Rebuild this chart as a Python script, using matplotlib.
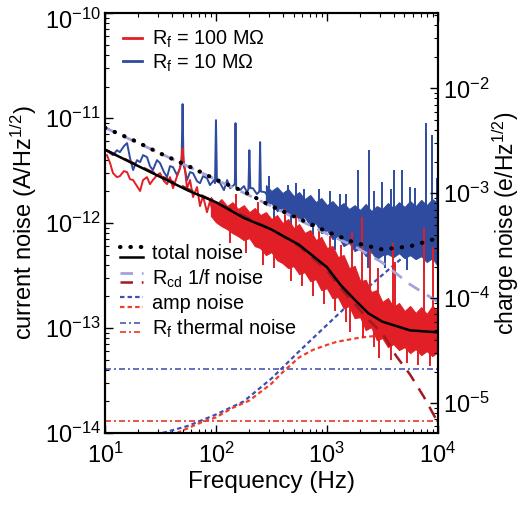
import matplotlib
matplotlib.use('Agg')
import matplotlib.pyplot as plt
from matplotlib.legend_handler import HandlerBase
from matplotlib.lines import Line2D
from matplotlib.transforms import ScaledTranslation

plt.rcParams['font.family'] = ['Liberation Sans', 'DejaVu Sans']
plt.rcParams['mathtext.fontset'] = 'custom'
plt.rcParams['mathtext.rm'] = 'Liberation Sans'
plt.rcParams['mathtext.it'] = 'Liberation Sans:italic'
plt.rcParams['mathtext.bf'] = 'Liberation Sans:bold'
plt.rcParams['mathtext.default'] = 'regular'

# %% colours
RED = '#e21e26'
BLUE = '#2e4b9f'
DARKRED = '#9e1b20'
LILAC = '#a3a3dd'
AMP_BLUE = '#3e4fb0'
AMP_RED = '#ef3e2a'
TH_BLUE = '#4b57b3'
TH_RED = '#ee3324'

# %% model curves (A/Hz^1/2)
tot100_f = [10, 17.8, 31.6, 56.2, 100, 178, 316, 562, 1000, 1330, 1780, 2370, 3160, 5620, 10000]
tot100_v = [5.0e-12, 3.7e-12, 2.75e-12, 2.04e-12, 1.58e-12, 1.12e-12, 8.7e-13, 6.2e-13,
            3.8e-13, 2.57e-13, 1.86e-13, 1.38e-13, 1.15e-13, 9.5e-14, 9.1e-14]

tot10_f = [10, 17.8, 31.6, 56.2, 100, 178, 316, 562, 1000, 1780, 3160, 5620, 10000]
tot10_v = [8.1e-12, 6.2e-12, 4.6e-12, 3.5e-12, 2.6e-12, 2.0e-12, 1.45e-12, 1.1e-12,
           8.3e-13, 6.5e-13, 5.6e-13, 6.0e-13, 7.2e-13]

rcd10_f = [10, 31.6, 100, 316, 1000, 1780, 3160, 5620, 10000]
rcd10_v = [8.1e-12, 4.6e-12, 2.6e-12, 1.45e-12, 7.9e-13, 6.0e-13, 4.2e-13, 2.6e-13, 1.78e-13]

rcd100_f = [10, 100, 316, 562, 1000, 1330, 1780, 2370, 3160, 4220, 5620, 7500, 10000]
rcd100_v = [5.0e-12, 1.58e-12, 8.7e-13, 6.0e-13, 3.55e-13, 2.4e-13, 1.7e-13, 1.2e-13,
            8.9e-14, 5.4e-14, 3.6e-14, 2.2e-14, 1.26e-14]

amp10_f = [33, 56.2, 100, 178, 316, 562, 1000, 1780, 3160, 5620, 10000]
amp10_v = [1.0e-14, 1.17e-14, 1.5e-14, 2.0e-14, 3.3e-14, 6.0e-14, 1.07e-13, 1.9e-13,
           3.2e-13, 5.4e-13, 6.9e-13]

amp100_f = [44.6, 72, 100, 142, 200, 316, 400, 562, 750, 1000, 1230, 1980, 3000, 5620, 10000]
amp100_v = [1.0e-14, 1.25e-14, 1.41e-14, 1.74e-14, 2.04e-14, 2.95e-14, 3.8e-14, 5.25e-14,
            6.2e-14, 6.9e-14, 7.4e-14, 8.1e-14, 8.5e-14, 8.5e-14, 8.5e-14]

therm_f = [10, 10000]
therm10_v = [4.07e-14, 4.07e-14]
therm100_v = [1.29e-14, 1.29e-14]

# %% measured spectra, Rf = 100 MOhm (red)
red_lo_f = [10.4, 11.1, 11.8, 12.8, 13.6, 14.8, 15.8, 16.8, 17.9, 19.4, 20.7, 22.0, 23.9,
            25.4, 27.0, 29.4, 31.3, 34.0, 36.2, 38.5, 41.0, 44.6, 47.4, 49, 50, 51, 52.6,
            54.8, 58.4, 62.1, 67.5, 71.8, 76.4, 83.0, 88.3, 96]
red_lo_v = [4.44e-12, 3.73e-12, 2.99e-12, 2.74e-12, 2.8e-12, 3.13e-12, 3.06e-12, 2.62e-12,
            2.57e-12, 2.25e-12, 2.02e-12, 2.57e-12, 2.74e-12, 2.35e-12, 2.57e-12, 2.86e-12,
            2.99e-12, 2.51e-12, 2.35e-12, 2.74e-12, 2.15e-12, 2.8e-12, 3.34e-12, 4.16e-12,
            5.18e-12, 3.98e-12, 3.2e-12, 2.15e-12, 2.57e-12, 1.77e-12, 2.2e-12, 1.45e-12,
            1.81e-12, 1.27e-12, 1.62e-12, 1.17e-12]

red_band_f = [90, 100, 112, 126, 141, 158, 178, 200, 224, 251, 282, 316, 355, 398, 447, 501,
              562, 631, 708, 794, 891, 1000, 1122, 1259, 1413, 1585, 1778, 1995, 2239, 2512,
              2818, 3162, 3548, 3981, 4467, 5012, 5623, 6310, 7079, 7943, 8913, 10000]
red_band_hi = [1.77e-12, 1.52e-12, 1.69e-12, 1.45e-12, 1.58e-12, 1.36e-12, 1.48e-12, 1.27e-12,
               1.39e-12, 1.19e-12, 1.27e-12, 1.09e-12, 1.19e-12, 1.0e-12, 1.09e-12, 8.96e-13,
               9.78e-13, 8.03e-13, 8.58e-13, 6.89e-13, 7.36e-13, 5.78e-13, 6.04e-13, 4.74e-13,
               4.96e-13, 3.73e-13, 3.9e-13, 2.8e-13, 2.87e-13, 2.2e-13, 2.3e-13, 1.77e-13,
               1.93e-13, 1.58e-13, 1.73e-13, 1.45e-13, 1.62e-13, 1.39e-13, 1.58e-13, 1.36e-13,
               1.62e-13, 1.45e-13]
red_band_lo = [1.17e-12, 1.02e-12, 9.36e-13, 8.77e-13, 8.03e-13, 7.52e-13, 6.89e-13, 7.2e-13,
               6.04e-13, 5.78e-13, 4.96e-13, 5.3e-13, 4.44e-13, 4.16e-13, 3.73e-13, 3.9e-13,
               3.27e-13, 3.41e-13, 2.8e-13, 2.93e-13, 2.3e-13, 2.4e-13, 1.93e-13, 1.97e-13,
               1.55e-13, 1.62e-13, 1.245e-13, 1.27e-13, 9.57e-14, 1.02e-13, 7.69e-14, 8.03e-14,
               6.59e-14, 7.04e-14, 6.17e-14, 6.59e-14, 5.78e-14, 6.31e-14, 5.53e-14, 6.04e-14,
               5.41e-14, 5.91e-14]

# tall lines and hairs sticking out of the red band
red_spike_f = [133, 150, 188, 237, 266, 335, 420, 473, 530, 596, 750, 840, 944, 1060, 1190,
               1340, 1500, 1600, 1680, 2065, 2110, 2440, 2660, 2900, 2950, 3760, 3935, 4070,
               5300, 6690, 7570, 8420, 9000]
red_spike_hi = [1.1e-12, 1.9e-12, 9.0e-13, 1.6e-12, 7.0e-13, 6.4e-13, 1.35e-12, 4.9e-13,
                1.2e-12, 4.3e-13, 3.7e-13, 9.0e-13, 3.1e-13, 7.5e-13, 2.5e-13, 6.2e-13,
                2.0e-13, 2.5e-13, 8.2e-13, 1.14e-12, 1.4e-13, 5.5e-13, 1.2e-13, 3.73e-13,
                1.3e-13, 9.0e-14, 6.5e-13, 4.3e-13, 8.0e-14, 7.7e-14, 8.96e-13, 7.5e-14,
                5.9e-13]
red_spike_lo = [6.5e-13, 1.2e-12, 5.2e-13, 1.0e-12, 4.0e-13, 3.7e-13, 8.0e-13, 2.8e-13,
                7.0e-13, 2.5e-13, 2.0e-13, 5.0e-13, 1.7e-13, 4.0e-13, 1.45e-13, 3.0e-13,
                1.15e-13, 9.2e-14, 2.0e-13, 1.7e-13, 8.0e-14, 1.5e-13, 6.6e-14, 1.3e-13,
                5.2e-14, 5.0e-14, 1.2e-13, 1.2e-13, 4.6e-14, 4.4e-14, 1.0e-13, 4.3e-14,
                1.0e-13]

# %% measured spectra, Rf = 10 MOhm (blue)
blue_lo_f = [10.4, 11.1, 11.8, 12.8, 13.6, 14.8, 15.8, 16.8, 17.9, 19.4, 20.7, 22.0, 23.9,
             25.4, 27.0, 29.4, 31.3, 34.0, 36.2, 38.5, 41.0, 44.6, 47.4, 49, 50, 51, 52.6,
             54.8, 58.4, 62.1, 67.5, 71.8, 76.4, 83.0, 88.3, 96, 98, 100, 102, 109, 118, 126,
             134, 145, 148, 150, 152, 164, 179, 190, 196, 200, 204, 215, 234, 246, 250, 254,
             276, 294]
blue_lo_v = [4.95e-12, 4.64e-12, 4.44e-12, 4.95e-12, 4.74e-12, 5.41e-12, 5.78e-12, 4.16e-12,
             3.2e-12, 3.98e-12, 3.81e-12, 4.44e-12, 4.25e-12, 3.49e-12, 3.2e-12, 3.98e-12,
             3.73e-12, 3.06e-12, 2.74e-12, 3.49e-12, 3.41e-12, 2.86e-12, 3.34e-12, 3.98e-12,
             1.36e-11, 3.57e-12, 3.2e-12, 2.57e-12, 3.06e-12, 2.99e-12, 2.51e-12, 2.4e-12,
             2.8e-12, 2.68e-12, 2.3e-12, 2.57e-12, 2.4e-12, 9.57e-12, 2.5e-12, 2.4e-12,
             2.06e-12, 2.57e-12, 2.15e-12, 2.3e-12, 2.4e-12, 8.96e-12, 2.2e-12, 2.06e-12,
             2.25e-12, 1.97e-12, 2.1e-12, 4.95e-12, 2.15e-12, 2.15e-12, 1.89e-12, 2.0e-12,
             5.91e-12, 2.0e-12, 1.97e-12, 1.81e-12]

blue_band_f = [282, 316, 355, 398, 447, 501, 562, 631, 708, 794, 891, 1000, 1122, 1259, 1413,
               1585, 1778, 1995, 2239, 2512, 2818, 3162, 3548, 3981, 4467, 5012, 5623, 6310,
               7079, 7943, 8913, 10000]
blue_band_hi = [2.3e-12, 2.02e-12, 2.2e-12, 1.93e-12, 2.11e-12, 1.81e-12, 1.97e-12, 1.69e-12,
                1.85e-12, 1.58e-12, 1.73e-12, 1.48e-12, 1.62e-12, 1.42e-12, 1.55e-12, 1.36e-12,
                1.48e-12, 1.33e-12, 1.52e-12, 1.30e-12, 1.45e-12, 1.36e-12, 1.55e-12, 1.39e-12,
                1.58e-12, 1.42e-12, 1.62e-12, 1.45e-12, 1.66e-12, 1.48e-12, 1.69e-12, 1.55e-12]
blue_band_lo = [1.48e-12, 1.55e-12, 1.30e-12, 1.39e-12, 1.19e-12, 1.25e-12, 1.09e-12, 1.14e-12,
                9.36e-13, 1.0e-12, 8.03e-13, 8.58e-13, 7.05e-13, 7.52e-13, 6.04e-13, 6.5e-13,
                5.41e-13, 5.78e-13, 4.85e-13, 5.3e-13, 4.54e-13, 4.96e-13, 5.07e-13, 4.74e-13,
                5.18e-13, 4.64e-13, 4.96e-13, 4.54e-13, 4.85e-13, 4.26e-13, 4.64e-13, 3.9e-13]

blue_spike_f = [300, 335, 446, 473, 530, 620, 750, 840, 1060, 1190, 1300, 1500, 1680, 1900,
                2370, 2390, 2660, 3130, 3350, 3760, 4015, 4740, 5300, 5600, 6210, 7500, 7800,
                8830, 9800]
blue_spike_hi = [2.8e-12, 1.8e-12, 2.3e-12, 1.5e-12, 2.4e-12, 2.1e-12, 1.4e-12, 2.1e-12,
                 2.0e-12, 1.1e-12, 1.9e-12, 1.9e-12, 9.0e-13, 3.2e-12, 8.0e-13, 4.95e-12,
                 2.0e-12, 2.46e-12, 8.0e-13, 2.1e-12, 3.2e-12, 3.2e-12, 8.0e-13, 2.2e-12,
                 2.15e-12, 8.0e-13, 8.96e-12, 6.9e-12, 2.68e-12]
blue_spike_lo = [1.8e-12, 1.0e-12, 1.5e-12, 9.0e-13, 1.5e-12, 1.3e-12, 7.2e-13, 1.3e-12,
                 1.0e-12, 5.6e-13, 1.0e-12, 1.0e-12, 4.5e-13, 1.0e-12, 3.7e-13, 1.0e-12,
                 1.0e-12, 1.0e-12, 3.7e-13, 1.0e-12, 1.0e-12, 1.0e-12, 3.6e-13, 1.0e-12,
                 1.0e-12, 3.4e-13, 1.0e-12, 1.0e-12, 1.0e-12]

# axis ticks
current_ticks = [1e-14, 1e-13, 1e-12, 1e-11, 1e-10]
# charge axis limits (e/Hz^1/2) matching current axis 1e-14 .. 1e-10
charge_lim = (5.2e-6, 5.2e-2)


class StackedHandler(HandlerBase):
    # two legend lines drawn one above the other
    def create_artists(self, legend, orig_handle, xdescent, ydescent,
                       width, height, fontsize, trans):
        arts = []
        for line, frac in zip(orig_handle, (0.9, 0.1)):
            y = -ydescent + frac * height
            seg = Line2D([-xdescent, -xdescent + width], [y, y])
            self.update_prop(seg, line, legend)
            seg.set_transform(trans)
            arts.append(seg)
        return arts


# %% plot
fig = plt.figure(figsize=(5.2, 5.07), dpi=100)
ax = fig.add_axes([0.202, 0.146, 0.640, 0.828])
ax.set_xscale('log')
ax.set_yscale('log')

th_b, = ax.plot(therm_f, therm10_v, color=TH_BLUE, lw=1.2, dashes=(3.6, 1.8, 1.2, 1.8), zorder=1.5)
th_r, = ax.plot(therm_f, therm100_v, color=TH_RED, lw=1.2, dashes=(3.6, 1.8, 1.2, 1.8), zorder=1.5)
amp_b, = ax.plot(amp10_f, amp10_v, color=AMP_BLUE, lw=1.6, dashes=(2.0, 1.4), zorder=1.6)
amp_r, = ax.plot(amp100_f, amp100_v, color=AMP_RED, lw=1.6, dashes=(2.0, 1.4), zorder=1.6)

# blue trace
ax.plot(blue_lo_f, blue_lo_v, color=BLUE, lw=1.4, zorder=2)
ax.fill_between(blue_band_f, blue_band_lo, blue_band_hi, color=BLUE, lw=0.8, zorder=2)
ax.vlines(blue_spike_f, blue_spike_lo, blue_spike_hi, color=BLUE, lw=1.4, zorder=2)

# red trace
ax.plot(red_lo_f, red_lo_v, color=RED, lw=1.4, zorder=2.5)
ax.fill_between(red_band_f, red_band_lo, red_band_hi, color=RED, lw=0.8, zorder=2.5)
ax.vlines(red_spike_f, red_spike_lo, red_spike_hi, color=RED, lw=1.4, zorder=2.5)

rcd_b, = ax.plot(rcd10_f, rcd10_v, color=LILAC, lw=2.0, dashes=(4.5, 3.2), zorder=3)
rcd_r, = ax.plot(rcd100_f, rcd100_v, color=DARKRED, lw=1.8, dashes=(5, 3.5), zorder=3)

tot_b, = ax.plot(tot10_f, tot10_v, color='black', lw=3.0, dashes=(0.1, 2.4),
                 dash_capstyle='round', zorder=4)
tot_r, = ax.plot(tot100_f, tot100_v, color='black', lw=1.8, zorder=4)

ax.set_xlim(10, 1e4)
ax.set_ylim(1e-14, 1e-10)
ax.set_yticks(current_ticks)

ax.tick_params(which='both', direction='in', top=True, right=False, labelsize=17)
ax.tick_params(which='major', length=6, width=1.0)
ax.tick_params(which='minor', length=3, width=0.8)
ax.tick_params(axis='x', pad=7)
ax.tick_params(axis='y', pad=3)
for s in ax.spines.values():
    s.set_linewidth(1.5)

# nudge the top label down so it stays inside the figure
top_lbl = ax.yaxis.get_major_ticks()[-1].label1
top_lbl.set_transform(top_lbl.get_transform() + ScaledTranslation(0, -4 / 72, fig.dpi_scale_trans))

ax.set_xlabel('Frequency (Hz)', fontsize=17.5, labelpad=2)
ax.set_ylabel('current noise (A/Hz$^{1/2}$)', fontsize=17, labelpad=4)

ax2 = ax.twinx()
ax2.set_yscale('log')
ax2.set_ylim(*charge_lim)
ax2.tick_params(which='both', direction='in', labelsize=17, pad=4)
ax2.tick_params(which='major', length=6, width=1.0)
ax2.tick_params(which='minor', length=3, width=0.8)
ax2.set_ylabel('charge noise (e/Hz$^{1/2}$)', fontsize=16.5, labelpad=0)
for s in ax2.spines.values():
    s.set_linewidth(1.5)

# legends
h_red = Line2D([], [], color=RED, lw=2)
h_blue = Line2D([], [], color=BLUE, lw=2)
leg1 = ax.legend([h_red, h_blue], ['R$_f$ = 100 MΩ', 'R$_f$ = 10 MΩ'],
                 loc='upper left', bbox_to_anchor=(0.054, 0.962), frameon=False,
                 fontsize=14.3, handlelength=0.95, handletextpad=0.5,
                 borderpad=0, borderaxespad=0, labelspacing=0.1)
ax.add_artist(leg1)

ax.legend([(tot_b, tot_r), (rcd_b, rcd_r), (amp_b, amp_r), (th_b, th_r)],
          ['total noise', 'R$_{cd}$ 1/f noise', 'amp noise', 'R$_f$ thermal noise'],
          handler_map={tuple: StackedHandler()},
          loc='upper left', bbox_to_anchor=(0.045, 0.45), frameon=False,
          fontsize=14.3, handlelength=1.15, handleheight=0.55, handletextpad=0.45,
          borderpad=0, borderaxespad=0, labelspacing=0.22)

fig.savefig('out.png', dpi=100)
